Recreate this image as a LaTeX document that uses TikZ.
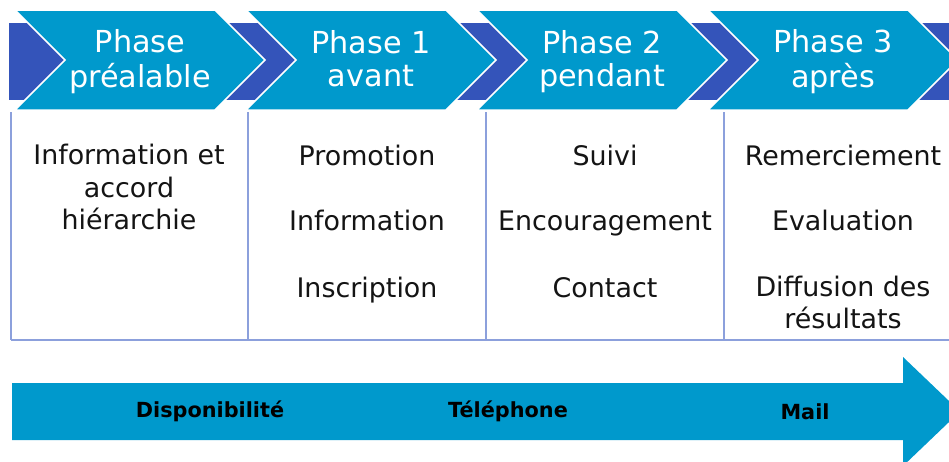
\documentclass[tikz,border=0pt]{standalone}
\usepackage{fontspec}
\setmainfont{DejaVu Sans}
\usetikzlibrary{positioning}
\definecolor{phaseblue}{RGB}{0,153,204}
\definecolor{bandblue}{RGB}{52,84,186}
\definecolor{gridblue}{RGB}{140,160,220}
\definecolor{textgrey}{RGB}{20,20,20}

\begin{document}
\begin{tikzpicture}[x=1pt, y=-1pt,
    phase/.style={fill=phaseblue, draw=white, line width=1.5pt, line join=miter},
    head/.style={text=white, font=\fontsize{30.3}{33}\selectfont, align=center, inner sep=0pt},
    item/.style={text=textgrey, font=\fontsize{26.9}{32.5}\selectfont, align=center, inner sep=0pt},
    way/.style={text=black, font=\fontsize{20.8}{24}\selectfont\bfseries, inner sep=0pt},
    grid/.style={draw=gridblue, line width=1.6pt}]
    \useasboundingbox (0,0) rectangle (949,461);
    \clip (0,0) rectangle (949,461);

    \fill[bandblue] (9,23) rectangle (949,100);
    \foreach \x/\name/\txt in {15/pre/{\strut Phase\\\strut préalable}, 246/avant/{\strut Phase 1\\\strut avant},
        477/pendant/{\strut Phase 2\\\strut pendant}, 708/apres/{\strut Phase 3\\\strut après}} {
        \draw[phase] (\x,10) -- ++(200,0) -- ++(50,50) -- ++(-50,50) -- ++(-200,0) -- ++(50,-50) -- cycle;
        \node[head] (\name) at (\x+125,63.5) {\txt};
    }

    \foreach \x in {11,248,486,724}
        \draw[grid] (\x,112) -- (\x,340);
    \draw[grid] (11,340) -- (949,340);

    \node[item] (accord) at (129,187) {Information et\\accord\\hiérarchie};
    \node[item, anchor=base] (promo) at (367,165) {Promotion};
    \node[item, anchor=base] (info) at (367,230) {Information};
    \node[item, anchor=base] (inscr) at (367,297) {Inscription};
    \node[item, anchor=base] (suivi) at (605,165) {Suivi};
    \node[item, anchor=base] (encour) at (605,230) {Encouragement};
    \node[item, anchor=base] (contact) at (605,297) {Contact};
    \node[item, anchor=base] (remerc) at (843,165) {Remerciement};
    \node[item, anchor=base] (evalu) at (843,230) {Evaluation};
    \node[item] (diffus) at (843,302.5) {Diffusion des\\résultats};

    \fill[phaseblue] (12,383) -- (903,383) -- (903,357) -- (960,411.5) -- (903,466) -- (903,440) -- (12,440) -- cycle;
    \node[way] (dispo) at (210,411.5) {Disponibilité};
    \node[way] (tel) at (508,411.5) {Téléphone};
    \node[way] (mail) at (805,411.5) {Mail};
\end{tikzpicture}
\end{document}
